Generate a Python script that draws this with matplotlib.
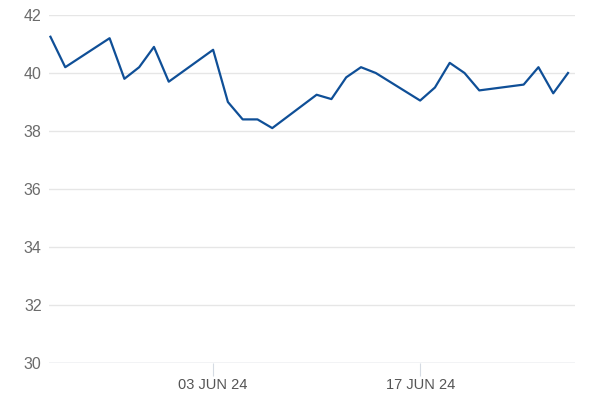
import numpy as np
import pandas as pd
import matplotlib
matplotlib.use("Agg")
import matplotlib.pyplot as plt
import matplotlib.dates as mdates

# daily values
dates = pd.to_datetime([
    "2024-05-23", "2024-05-24", "2024-05-27", "2024-05-28", "2024-05-29",
    "2024-05-30", "2024-05-31", "2024-06-03", "2024-06-04", "2024-06-05",
    "2024-06-06", "2024-06-07", "2024-06-10", "2024-06-11", "2024-06-12",
    "2024-06-13", "2024-06-14", "2024-06-17", "2024-06-18", "2024-06-19",
    "2024-06-20", "2024-06-21", "2024-06-24", "2024-06-25", "2024-06-26",
    "2024-06-27",
])
prices = [
    41.25, 40.2, 41.2, 39.8, 40.2,
    40.9, 39.7, 40.8, 39.0, 38.4,
    38.4, 38.1, 39.25, 39.1, 39.85,
    40.2, 40.0, 39.05, 39.5, 40.35,
    40.0, 39.4, 39.6, 40.2, 39.3,
    40.0,
]
y_ticks = [30, 32, 34, 36, 38, 40, 42]
x_ticks = pd.to_datetime(["2024-06-03", "2024-06-17"])

plt.rcParams["font.family"] = ["Liberation Sans", "DejaVu Sans"]

fig = plt.figure(figsize=(6, 4), dpi=100)
ax = fig.add_axes([0.081, 0.0925, 0.877, 0.87])

ax.plot(dates, prices, color="#0f4f97", linewidth=1.6)

ax.set_ylim(30, 42)
ax.set_yticks(y_ticks)
ax.set_xlim(pd.Timestamp("2024-05-22 21:00"), pd.Timestamp("2024-06-27 11:00"))
ax.set_xticks(x_ticks)
ax.xaxis.set_major_formatter(mdates.DateFormatter("%d %b %y"))
ax.set_xticklabels([d.strftime("%d %b %y").upper() for d in x_ticks])

ax.grid(axis="y", color="#e6e6e6", linewidth=1)
ax.set_axisbelow(True)
for s in ax.spines.values():
    s.set_visible(False)
ax.axhline(30, color="#d5dbe3", linewidth=1, zorder=0)

ax.tick_params(axis="y", length=0, labelsize=11.5, labelcolor="#6b6b6b", pad=5)
ax.tick_params(axis="x", length=9, color="#d5dbe3", labelsize=10.5,
               labelcolor="#555555", pad=2)

fig.savefig("out.png", dpi=100)
